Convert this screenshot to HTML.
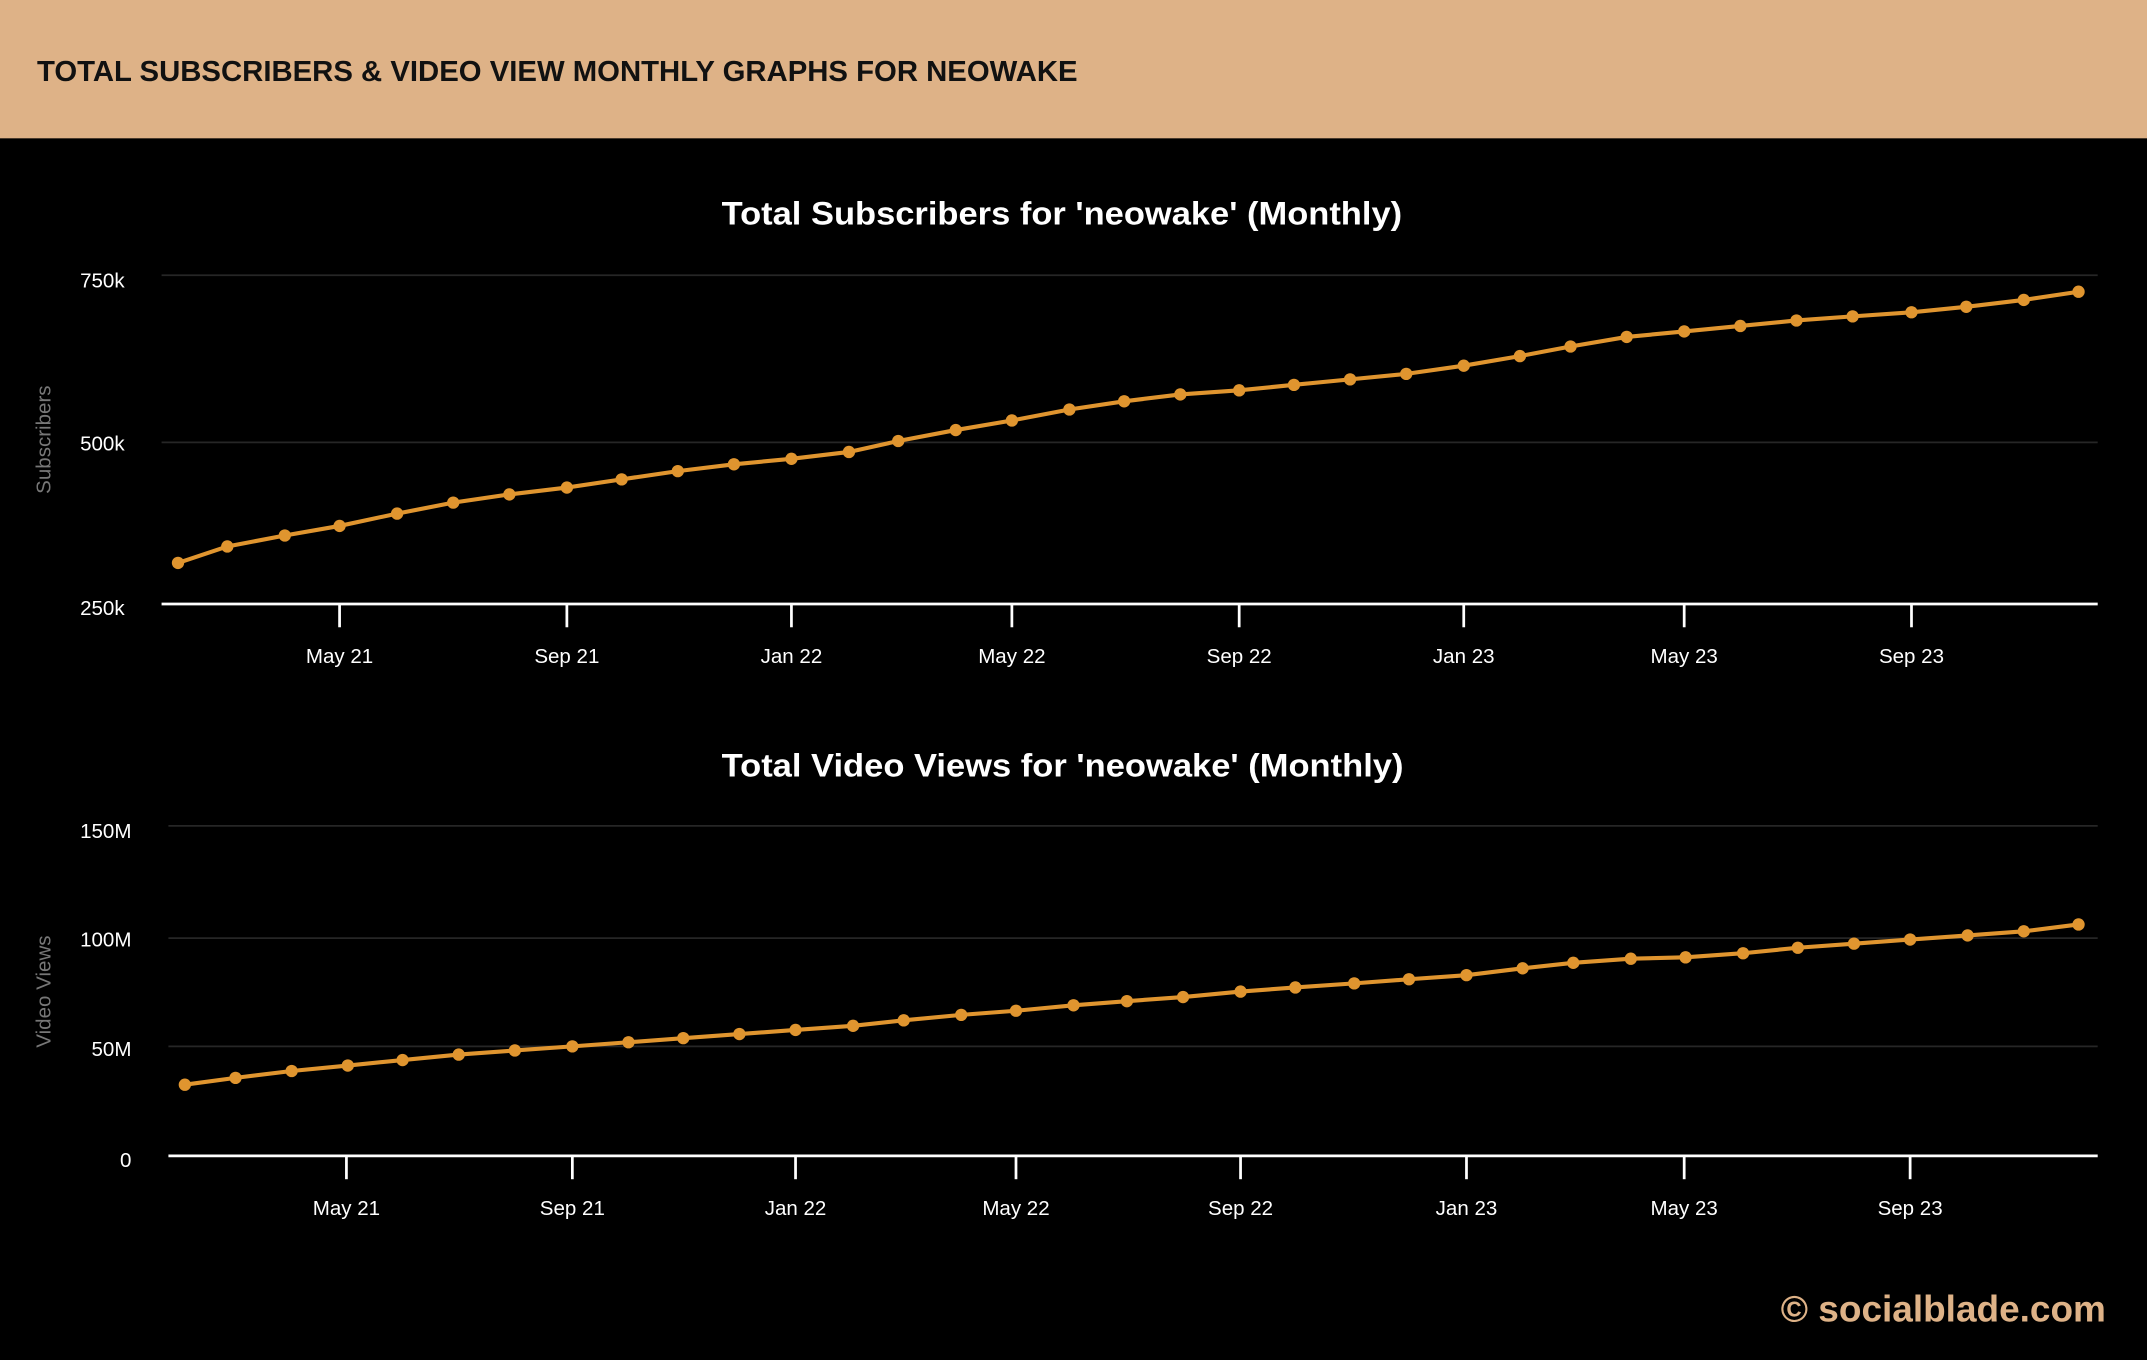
<!DOCTYPE html>
<html><head><meta charset="utf-8"><style>
html,body{margin:0;padding:0;background:#000;}
svg{display:block;}
text{font-family:"Liberation Sans",Arial,sans-serif;}
</style></head><body>
<svg id="s" width="2147" height="1360" viewBox="0 0 1568 993" preserveAspectRatio="none" xmlns="http://www.w3.org/2000/svg">
<rect x="0" y="0" width="1568" height="993" fill="#000"/>
<rect x="0" y="0" width="1568" height="101" fill="#deb287"/>
<text x="27" y="59" font-size="21" font-weight="bold" fill="#111" textLength="760" lengthAdjust="spacingAndGlyphs">TOTAL SUBSCRIBERS &amp; VIDEO VIEW MONTHLY GRAPHS FOR NEOWAKE</text>

<text x="527" y="164" font-size="24" font-weight="bold" fill="#fff" textLength="497" lengthAdjust="spacingAndGlyphs">Total Subscribers for 'neowake' (Monthly)</text>
<text x="527" y="567" font-size="24" font-weight="bold" fill="#fff" textLength="498" lengthAdjust="spacingAndGlyphs">Total Video Views for 'neowake' (Monthly)</text>

<g stroke="#262626" stroke-width="1.3">
<line x1="118" y1="201" x2="1532" y2="201"/>
<line x1="118" y1="323" x2="1532" y2="323"/>
<line x1="123" y1="603" x2="1532" y2="603"/>
<line x1="123" y1="685" x2="1532" y2="685"/>
<line x1="123" y1="764" x2="1532" y2="764"/>
</g>
<g stroke="#fff" stroke-width="2">
<line x1="118" y1="441" x2="1532" y2="441"/>
<line x1="123" y1="844" x2="1532" y2="844"/>
</g>
<g id="ticks" stroke="#fff" stroke-width="2"></g>

<g font-size="15" fill="#fff" text-anchor="end">
<text x="91" y="210">750k</text>
<text x="91" y="329">500k</text>
<text x="91" y="449">250k</text>
<text x="96" y="612">150M</text>
<text x="96" y="691">100M</text>
<text x="96" y="771">50M</text>
<text x="96" y="852">0</text>
</g>
<text transform="translate(37,321) rotate(-90)" font-size="15" fill="#777" text-anchor="middle">Subscribers</text>
<text transform="translate(37,724) rotate(-90)" font-size="15" fill="#777" text-anchor="middle">Video Views</text>
<g id="xl" font-size="15" fill="#fff" text-anchor="middle"></g>
<g id="series"></g>
<text x="1538" y="965" font-size="27" font-weight="bold" fill="#deb287" text-anchor="end">© socialblade.com</text>
</svg>
<script>
var NS="http://www.w3.org/2000/svg";
function el(t,a,p){var e=document.createElementNS(NS,t);for(var k in a)e.setAttribute(k,a[k]);p.appendChild(e);return e;}
var labels=["May 21","Sep 21","Jan 22","May 22","Sep 22","Jan 23","May 23","Sep 23"];
var t1=[248,414,578,739,905,1069,1230,1396],t2=[253,418,581,742,906,1071,1230,1395];
var tk=document.getElementById("ticks"),xl=document.getElementById("xl");
for(var i=0;i<8;i++){
el("line",{x1:t1[i],y1:441,x2:t1[i],y2:458},tk);
el("line",{x1:t2[i],y1:844,x2:t2[i],y2:861},tk);
el("text",{x:t1[i],y:484},xl).textContent=labels[i];
el("text",{x:t2[i],y:887},xl).textContent=labels[i];
}
var x1=[130,166,208,248,290,331,372,414,454,495,536,578,620,656,698,739,781,821,862,905,945,986,1027,1069,1110,1147,1188,1230,1271,1312,1353,1396,1436,1478,1518];
var y1=[411,399,391,384,375,367,361,356,350,344,339,335,330,322,314,307,299,293,288,285,281,277,273,267,260,253,246,242,238,234,231,228,224,219,213];
var x2=[135,172,213,254,294,335,376,418,459,499,540,581,623,660,702,742,784,823,864,906,946,989,1029,1071,1112,1149,1191,1231,1273,1313,1354,1395,1437,1478,1518];
var y2=[792,787,782,778,774,770,767,764,761,758,755,752,749,745,741,738,734,731,728,724,721,718,715,712,707,703,700,699,696,692,689,686,683,680,675];
var g=document.getElementById("series");
function draw(xs,ys){var p=xs.map(function(x,i){return x+","+ys[i];}).join(" ");
el("polyline",{points:p,fill:"none",stroke:"#e0952f","stroke-width":3},g);
xs.forEach(function(x,i){el("circle",{cx:x,cy:ys[i],r:4.5,fill:"#e0952f"},g);});}
draw(x1,y1);draw(x2,y2);
</script>
</body></html>
